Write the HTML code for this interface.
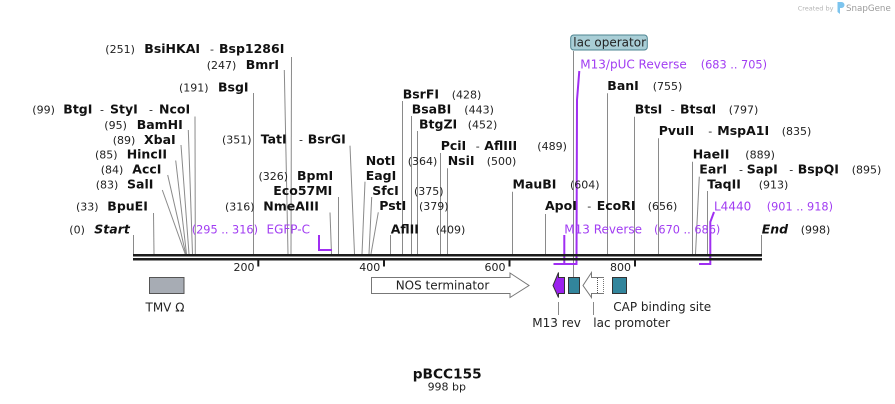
<!DOCTYPE html>
<html><head><meta charset="utf-8"><style>
html,body{margin:0;padding:0;background:#fff;width:895px;height:404px;overflow:hidden}
svg{display:block}
.n{font-family:"DejaVu Sans","Liberation Sans",sans-serif;font-size:11px;fill:#222}
.b{font-family:"DejaVu Sans","Liberation Sans",sans-serif;font-size:12.5px;font-weight:bold;fill:#111}
.bi{font-family:"DejaVu Sans","Liberation Sans",sans-serif;font-size:12.5px;font-weight:bold;font-style:italic;fill:#111}
.d{font-family:"DejaVu Sans","Liberation Sans",sans-serif;font-size:11px;fill:#222}
.p{font-family:"DejaVu Sans","Liberation Sans",sans-serif;font-size:12px;fill:#a13cf2}
.pn{font-family:"DejaVu Sans","Liberation Sans",sans-serif;font-size:11.3px;fill:#a13cf2}
.f{font-family:"DejaVu Sans","Liberation Sans",sans-serif;font-size:12px;fill:#222}
.t{font-family:"DejaVu Sans","Liberation Sans",sans-serif;font-size:11px;fill:#222}
.g line,.g polyline{stroke:#8a8a8a;stroke-width:1;fill:none}
.pl line,.pl polyline{stroke:#a02ef2;stroke-width:2;fill:none}
</style></head><body>
<svg width="895" height="404" viewBox="0 0 895 404" xmlns="http://www.w3.org/2000/svg">
<!-- watermark -->
<text x="797.7" y="10.5" style="font-family:'DejaVu Sans',sans-serif;font-size:6.5px;fill:#b5b5b5">Created by</text>
<path d="M837.5,2 h4 a2.5,2.5 0 0 1 0,6 h-1.5 v6 l-2.5,-2 z" fill="#7cc4ee"/>
<text x="846" y="11" style="font-family:'DejaVu Sans',sans-serif;font-size:8.7px;fill:#9a9a9a">SnapGene</text>

<!-- site lines -->
<g class="g">
<line x1="133.5" y1="235" x2="133.5" y2="254"/>
<line x1="153.5" y1="213" x2="154" y2="254"/>
<line x1="162.3" y1="190" x2="185.2" y2="254"/>
<line x1="167.7" y1="175" x2="185.8" y2="254"/>
<line x1="175.7" y1="160.5" x2="186.5" y2="254"/>
<line x1="181" y1="145" x2="189" y2="254"/>
<line x1="188.3" y1="130" x2="192.5" y2="254"/>
<line x1="195" y1="116.5" x2="195.3" y2="254"/>
<line x1="253.5" y1="93" x2="253.5" y2="254"/>
<line x1="284.3" y1="70" x2="288" y2="254"/>
<line x1="291.5" y1="57" x2="291" y2="254"/>
<line x1="330" y1="212.5" x2="331.5" y2="254"/>
<line x1="338.5" y1="197" x2="338.5" y2="254"/>
<line x1="350" y1="145.7" x2="354.5" y2="254"/>
<line x1="365" y1="181.7" x2="362" y2="254"/>
<line x1="371.7" y1="197" x2="369" y2="254"/>
<line x1="378.3" y1="212.3" x2="371" y2="254"/>
<line x1="390.5" y1="235" x2="390.5" y2="254"/>
<line x1="402.5" y1="101" x2="402.5" y2="254"/>
<line x1="411.5" y1="116" x2="411.5" y2="254"/>
<line x1="417.5" y1="131" x2="417.5" y2="254"/>
<line x1="440.5" y1="153" x2="440.5" y2="254"/>
<line x1="447.5" y1="168.3" x2="447.5" y2="254"/>
<line x1="512.5" y1="191.7" x2="512.5" y2="254"/>
<line x1="545.5" y1="214" x2="545.5" y2="254"/>
<line x1="573.5" y1="51" x2="573.5" y2="277"/>
<line x1="607.5" y1="93.3" x2="607.5" y2="254"/>
<line x1="634.5" y1="116.7" x2="634.5" y2="254"/>
<line x1="658.5" y1="138.3" x2="658.5" y2="254"/>
<line x1="692.5" y1="161.7" x2="692.5" y2="254"/>
<line x1="699.3" y1="176.7" x2="695.5" y2="254"/>
<line x1="707.5" y1="191" x2="707.5" y2="254"/>
<line x1="761.5" y1="235" x2="761.5" y2="254"/>
<line x1="558.5" y1="302" x2="558.5" y2="315"/>
<line x1="593.5" y1="302" x2="593.5" y2="315"/>
</g>

<!-- primer brackets -->
<g class="pl">
<polyline points="319,235 319,250 332,250"/>
<polyline points="564.3,235 564.3,264 553.5,264"/>
<polyline points="579.3,71 577,100 576.5,264 563,264"/>
<polyline points="714,212 710.3,222 710.3,264 699,264"/>
</g>

<!-- backbone -->
<rect x="133" y="254" width="629" height="2.5" fill="#1c1c1c"/>
<rect x="133" y="258" width="629" height="2.5" fill="#1c1c1c"/>
<!-- ticks -->
<rect x="257.3" y="260" width="2" height="6.5" fill="#1c1c1c"/>
<rect x="383" y="260" width="2" height="6.5" fill="#1c1c1c"/>
<rect x="508.5" y="260" width="2" height="6.5" fill="#1c1c1c"/>
<rect x="634" y="260" width="2" height="6.5" fill="#1c1c1c"/>
<text class="t" x="254.5" y="271" text-anchor="end">200</text>
<text class="t" x="380.3" y="271" text-anchor="end">400</text>
<text class="t" x="505.5" y="271" text-anchor="end">600</text>
<text class="t" x="631" y="271" text-anchor="end">800</text>

<!-- features -->
<rect x="149.5" y="277.5" width="34.5" height="16" fill="#a7acb4" stroke="#555" stroke-width="1"/>
<text class="f" x="145.5" y="311.5">TMV Ω</text>
<polygon points="371.5,277.5 510,277.5 510,273 529,285.5 510,297.5 510,293.5 371.5,293.5" fill="#fff" stroke="#777" stroke-width="1"/>
<text class="f" x="395.7" y="289.5">NOS terminator</text>
<polygon points="564.5,277.5 558.5,277.5 558.5,272.5 553,285.5 558.5,297.5 558.5,293.5 564.5,293.5" fill="#9b22ee" stroke="#333" stroke-width="1"/>
<rect x="568.5" y="277.5" width="11" height="16" fill="#32859c" stroke="#333" stroke-width="1"/>
<polygon points="603.5,277.5 591.5,277.5 591.5,272.5 583,285.5 591.5,297.5 591.5,293.5 603.5,293.5" fill="#fff" stroke="#777" stroke-width="1"/>
<line x1="597.5" y1="278" x2="597.5" y2="293" stroke="#555" stroke-width="1" stroke-dasharray="1,1"/>
<line x1="603.5" y1="278" x2="603.5" y2="293" stroke="#fff" stroke-width="1.2" stroke-dasharray="1,1"/>
<rect x="612.5" y="277.5" width="14" height="16" fill="#32859c" stroke="#333" stroke-width="1"/>
<text class="f" x="532.3" y="327">M13 rev</text>
<text class="f" x="593.3" y="327">lac promoter</text>
<text class="f" x="613.3" y="311">CAP binding site</text>

<!-- lac operator label box -->
<rect x="570.7" y="35" width="76.6" height="15" rx="3" ry="3" fill="#a9ced6" stroke="#4d8490" stroke-width="1"/>
<text class="f" x="573.3" y="46.5">lac operator</text>

<!-- left labels -->
<text class="n" x="105.3" y="53">(251)</text><text class="b" x="144.3" y="53">BsiHKAI</text><text class="d" x="210" y="53">-</text><text class="b" x="219" y="53">Bsp1286I</text>
<text class="n" x="206.7" y="69">(247)</text><text class="b" x="245.7" y="69">BmrI</text>
<text class="n" x="179" y="91.7">(191)</text><text class="b" x="218" y="91.7">BsgI</text>
<text class="n" x="32.3" y="113.3">(99)</text><text class="b" x="63.3" y="113.3">BtgI</text><text class="d" x="100" y="113.3">-</text><text class="b" x="110" y="113.3">StyI</text><text class="d" x="149" y="113.3">-</text><text class="b" x="159" y="113.3">NcoI</text>
<text class="n" x="104.3" y="129">(95)</text><text class="b" x="136.7" y="129">BamHI</text>
<text class="n" x="112.7" y="144">(89)</text><text class="b" x="144" y="144">XbaI</text>
<text class="n" x="222" y="143.5">(351)</text><text class="b" x="260.7" y="143.5">TatI</text><text class="d" x="299" y="143.5">-</text><text class="b" x="307.7" y="143.5">BsrGI</text>
<text class="n" x="95" y="158.3">(85)</text><text class="b" x="126.7" y="158.3">HincII</text>
<text class="n" x="100.7" y="173.3">(84)</text><text class="b" x="132.3" y="173.3">AccI</text>
<text class="n" x="95.7" y="188.3">(83)</text><text class="b" x="127" y="188.3">SalI</text>
<text class="n" x="258.5" y="180">(326)</text><text class="b" x="297" y="180">BpmI</text>
<text class="b" x="273.3" y="195">Eco57MI</text>
<text class="n" x="225" y="210.7">(316)</text><text class="b" x="263.3" y="210.7">NmeAIII</text>
<text class="n" x="76" y="210.7">(33)</text><text class="b" x="107.3" y="210.7">BpuEI</text>
<text class="n" x="69.3" y="233.3">(0)</text><text class="bi" x="94.3" y="233.3">Start</text>
<text class="pn" x="191.7" y="233.3">(295 .. 316)</text><text class="p" x="266.5" y="233.3">EGFP-C</text>

<!-- middle labels -->
<text class="b" x="402.7" y="98.3">BsrFI</text><text class="n" x="451.7" y="98.3">(428)</text>
<text class="b" x="411.7" y="113.3">BsaBI</text><text class="n" x="464.3" y="113.3">(443)</text>
<text class="b" x="419" y="128.3">BtgZI</text><text class="n" x="467.7" y="128.3">(452)</text>
<text class="b" x="440.7" y="150">PciI</text><text class="d" x="475.7" y="150">-</text><text class="b" x="484.3" y="150">AflIII</text><text class="n" x="537.3" y="150">(489)</text>
<text class="b" x="365.7" y="165">NotI</text><text class="n" x="407.7" y="165">(364)</text>
<text class="b" x="447.7" y="165">NsiI</text><text class="n" x="486.7" y="165">(500)</text>
<text class="b" x="365.7" y="180">EagI</text>
<text class="b" x="372.3" y="195">SfcI</text><text class="n" x="414" y="195">(375)</text>
<text class="b" x="379.3" y="210">PstI</text><text class="n" x="419" y="210">(379)</text>
<text class="b" x="390.7" y="233.3">AflII</text><text class="n" x="435.7" y="233.3">(409)</text>
<text class="b" x="512.5" y="188.3">MauBI</text><text class="n" x="570" y="188.3">(604)</text>
<text class="b" x="545" y="210">ApoI</text><text class="d" x="587.3" y="210">-</text><text class="b" x="596.7" y="210">EcoRI</text><text class="n" x="647.7" y="210">(656)</text>
<text class="p" x="564.3" y="233.3">M13 Reverse</text><text class="pn" x="654" y="233.3">(670 .. 686)</text>

<!-- right labels -->
<text class="p" x="580.3" y="68.3">M13/pUC Reverse</text><text class="pn" x="700.7" y="68.3">(683 .. 705)</text>
<text class="b" x="607.3" y="90">BanI</text><text class="n" x="652.7" y="90">(755)</text>
<text class="b" x="634.7" y="113.3">BtsI</text><text class="d" x="670.7" y="113.3">-</text><text class="b" x="680" y="113.3">BtsαI</text><text class="n" x="728.7" y="113.3">(797)</text>
<text class="b" x="658.7" y="135">PvuII</text><text class="d" x="708.3" y="135">-</text><text class="b" x="717.3" y="135">MspA1I</text><text class="n" x="781.7" y="135">(835)</text>
<text class="b" x="692.7" y="158.3">HaeII</text><text class="n" x="745.3" y="158.3">(889)</text>
<text class="b" x="699.3" y="173.3">EarI</text><text class="d" x="739" y="173.3">-</text><text class="b" x="746.7" y="173.3">SapI</text><text class="d" x="789.3" y="173.3">-</text><text class="b" x="797.7" y="173.3">BspQI</text><text class="n" x="851.7" y="173.3">(895)</text>
<text class="b" x="707.3" y="188.3">TaqII</text><text class="n" x="758.7" y="188.3">(913)</text>
<text class="p" x="714" y="210.7">L4440</text><text class="pn" x="766.7" y="210.7">(901 .. 918)</text>
<text class="bi" x="761.7" y="233.3">End</text><text class="n" x="800.7" y="233.3">(998)</text>

<!-- title -->
<text x="447.2" y="378.3" text-anchor="middle" style="font-family:'DejaVu Sans',sans-serif;font-size:13.7px;font-weight:bold;fill:#111">pBCC155</text>
<text x="446.8" y="390.7" text-anchor="middle" style="font-family:'DejaVu Sans',sans-serif;font-size:11px;fill:#222">998 bp</text>
</svg>
</body></html>
